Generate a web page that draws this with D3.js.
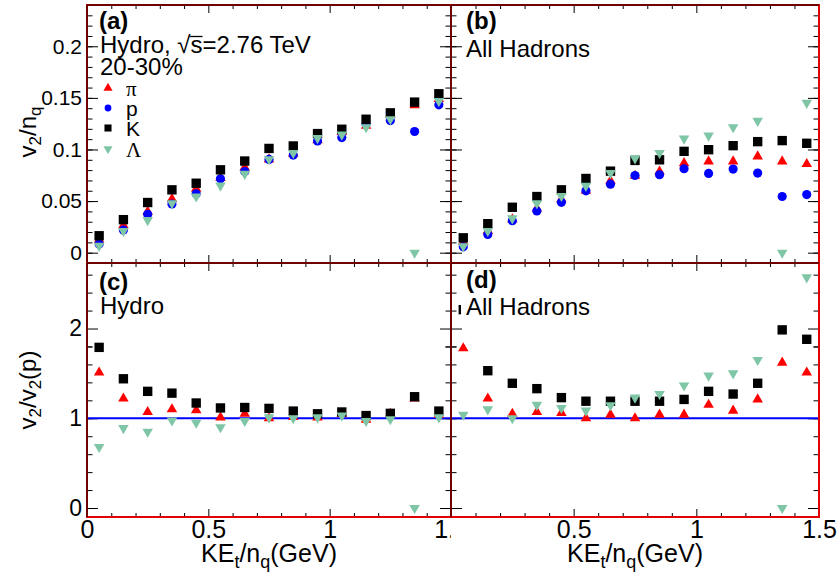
<!DOCTYPE html>
<html>
<head>
<meta charset="utf-8">
<script src="https://cdn.jsdelivr.net/npm/d3@7"></script>
<style>
  body { margin: 0; background: #fff; }
  svg { display: block; font-family: "Liberation Sans", Arial, Helvetica, sans-serif; }
</style>
</head>
<body>
<div id="chart"></div>
<script>
// bin centres in KE_t/n_q (GeV)
var keBins = [0.05, 0.15, 0.25, 0.35, 0.45, 0.55, 0.65, 0.75, 0.85, 0.95, 1.05, 1.15, 1.25, 1.35, 1.45];

// (a) hydro, v2/nq
var hydroPi     = [0.0125, 0.0267, 0.0398, 0.052, 0.062, 0.0723, 0.0826, 0.0904, 0.096, 0.109, 0.117, 0.123, 0.134, 0.143, 0.149];
var hydroP      = [0.0083, 0.0219, 0.0372, 0.0472, 0.057, 0.0716, 0.0787, 0.0904, 0.0946, 0.1082, 0.1115, 0.1248, 0.128, 0.1174, 0.1433];
var hydroK      = [0.0164, 0.032, 0.0486, 0.0609, 0.0673, 0.0803, 0.0888, 0.101, 0.1034, 0.1154, 0.1196, 0.1293, 0.1355, 0.1459, 0.154];
var hydroLambda = [0.0066, 0.021, 0.0316, 0.0479, 0.0544, 0.065, 0.0764, 0.0906, 0.0966, 0.111, 0.1144, 0.1215, 0.1293, 0.0, 0.1469];

// (b) all hadrons, v2/nq
var allPi     = [0.0103, 0.0212, 0.0322, 0.0428, 0.0517, 0.060, 0.0697, 0.0745, 0.0787, 0.0868, 0.0884, 0.0884, 0.0933, 0.0884, 0.0859];
var allP      = [0.0057, 0.0177, 0.031, 0.0404, 0.0488, 0.0599, 0.0664, 0.0748, 0.0755, 0.0813, 0.0768, 0.081, 0.0771, 0.0544, 0.0563];
var allK      = [0.0144, 0.0281, 0.044, 0.0544, 0.0609, 0.0719, 0.079, 0.0894, 0.090, 0.0982, 0.0998, 0.1037, 0.1076, 0.1086, 0.106];
var allLambda = [0.0063, 0.021, 0.0333, 0.0479, 0.055, 0.0648, 0.0771, 0.0914, 0.0966, 0.1105, 0.1134, 0.1215, 0.1277, 0.0, 0.1452];

// (c) hydro, v2/v2(p)
var hydroRatioPi     = [1.51, 1.22, 1.07, 1.10, 1.09, 1.01, 1.05, 1.00, 1.015, 1.01, 1.05, 0.985, 1.05, 1.22, 1.04];
var hydroRatioK      = [1.79, 1.44, 1.30, 1.28, 1.17, 1.115, 1.12, 1.11, 1.08, 1.05, 1.07, 1.03, 1.055, 1.24, 1.08];
var hydroRatioLambda = [0.68, 0.89, 0.85, 0.975, 0.95, 0.90, 0.97, 1.01, 1.00, 1.01, 1.03, 0.97, 0.99, 0.0, 1.01];

// (d) all hadrons, v2/v2(p)
var allRatioPi     = [1.78, 1.22, 1.05, 1.07, 1.06, 1.00, 1.04, 1.00, 1.04, 1.04, 1.15, 1.085, 1.21, 1.62, 1.51];
var allRatioK      = [2.21, 1.53, 1.39, 1.33, 1.23, 1.19, 1.19, 1.19, 1.19, 1.21, 1.30, 1.27, 1.39, 1.985, 1.88];
var allRatioLambda = [1.04, 1.10, 1.00, 1.15, 1.115, 1.085, 1.145, 1.23, 1.27, 1.365, 1.475, 1.50, 1.65, 0.0, 2.57];

// tick labels
var keTickValues = [0, 0.5, 1, 1.5];
var keTickLabels = ["0", "0.5", "1", "1.5"];
var v2TickValues = [0, 0.05, 0.1, 0.15, 0.2];
var v2TickLabels = ["0", "0.05", "0.1", "0.15", "0.2"];
var ratioTickValues = [0, 1, 2];
var ratioTickLabels = ["0", "1", "2"];

var speciesNames = ["\u03c0", "p", "K", "\u039b"];

var W = 840, H = 573;
var cPi = "#ff0000", cP = "#0000ff", cK = "#000000", cLam = "#7fc6a6";

var svg = d3.select("#chart").append("svg")
    .attr("width", W)
    .attr("height", H);

svg.append("rect").attr("width", W).attr("height", H).attr("fill", "#fff");

function markerPath(shape, size) {
    if (shape == "square") return d3.symbol().type(d3.symbolSquare).size(size)();
    if (shape == "circle") return d3.symbol().type(d3.symbolCircle).size(size)();
    return d3.symbol().type(d3.symbolTriangle).size(size)();
}

function drawMarkers(g, xs, ys, vals, shape, color, size) {
    g.selectAll(null)
        .data(vals)
      .enter().append("path")
        .attr("d", markerPath(shape, size))
        .attr("fill", color)
        .attr("transform", function(d, i) {
            var t = "translate(" + xs(keBins[i]) + "," + ys(d) + ")";
            if (shape == "down") t += " rotate(180)";
            return t;
        });
}

// draw one pad: ticks on all four sides pointing in, labels where asked
function drawPanel(p) {
    var g = svg.append("g");
    if (p.padBg) {
        g.append("rect")
            .attr("x", p.x0).attr("y", p.y0)
            .attr("width", W - p.x0).attr("height", H - p.y0)
            .attr("fill", "#fff");
    }

    var x = d3.scaleLinear().domain([0, 1.5]).range([p.x0, p.x1]);
    var y = d3.scaleLinear().domain(p.yDomain).range([p.y1, p.y0]);

    var xMinor = d3.range(0, 1.5001, 0.1).filter(function(v) { return Math.abs(v * 2 - Math.round(v * 2)) > 1e-6; });
    var yMinor = d3.range(p.yDomain[0], p.yDomain[1] + 1e-9, p.yMinorStep)
        .map(function(v) { return Math.round(v / p.yMinorStep) * p.yMinorStep; })
        .filter(function(v) { return v >= p.yDomain[0] - 1e-9 && v <= p.yDomain[1] + 1e-9; });

    function axisG(axis, tx, ty, fontSize) {
        var a = g.append("g")
            .attr("transform", "translate(" + tx + "," + ty + ")")
            .call(axis);
        a.select(".domain").remove();
        a.selectAll("line").attr("stroke", "#000").attr("stroke-width", 1);
        a.selectAll("text").attr("font-size", fontSize).attr("fill", "#000")
            .attr("font-family", "Liberation Sans, Arial, sans-serif");
        return a;
    }

    var yMajorSize = -11, yMinorSize = -5.5, xMajorSize = -8, xMinorSize = -4;

    // y axes
    axisG(d3.axisLeft(y).tickValues(p.yTicks).tickSize(yMajorSize).tickPadding(5)
        .tickFormat(function(d, i) { return p.showY ? p.yLabels[i] : ""; }), p.x0, 0, p.yFont);
    axisG(d3.axisLeft(y).tickValues(yMinor).tickSize(yMinorSize).tickFormat(""), p.x0, 0, 10);
    axisG(d3.axisRight(y).tickValues(p.yTicks).tickSize(yMajorSize).tickFormat(""), p.x1, 0, 10);
    axisG(d3.axisRight(y).tickValues(yMinor).tickSize(yMinorSize).tickFormat(""), p.x1, 0, 10);

    // x axes
    var bx = axisG(d3.axisBottom(x).tickValues(keTickValues).tickSize(xMajorSize).tickPadding(3)
        .tickFormat(function(d, i) { return p.showX ? keTickLabels[i] : ""; }), 0, p.y1, 25);
    if (p.hideZero) bx.selectAll("text").filter(function(d) { return d === 0; }).remove();
    axisG(d3.axisBottom(x).tickValues(xMinor).tickSize(xMinorSize).tickFormat(""), 0, p.y1, 10);
    axisG(d3.axisTop(x).tickValues(keTickValues).tickSize(xMajorSize).tickFormat(""), 0, p.y0, 10);
    axisG(d3.axisTop(x).tickValues(xMinor).tickSize(xMinorSize).tickFormat(""), 0, p.y0, 10);

    // reference line at 1
    if (p.unitLine) {
        g.append("line")
            .attr("x1", p.x0).attr("x2", p.x1)
            .attr("y1", y(1)).attr("y2", y(1))
            .attr("stroke", "#0000ff").attr("stroke-width", 2);
    }

    // markers
    var mk = g.append("g");
    drawMarkers(mk, x, y, p.series[0], "up", cPi, 48);
    drawMarkers(mk, x, y, p.series[1], "circle", cP, 66);
    drawMarkers(mk, x, y, p.series[2], "square", cK, 88);
    drawMarkers(mk, x, y, p.series[3], "down", cLam, 48);

    // pad border (red) and frame (black top/left)
    g.append("rect")
        .attr("x", p.x0).attr("y", p.y0)
        .attr("width", p.x1 - p.x0).attr("height", p.y1 - p.y0)
        .attr("fill", "none").attr("stroke", "#e00000").attr("stroke-width", 2);
    g.append("path")
        .attr("d", "M" + p.x0 + "," + p.y1 + "V" + p.y0 + "H" + p.x1)
        .attr("fill", "none").attr("stroke", "#000").attr("stroke-width", 1);

    return g;
}

var topCfg = { y0: 5, y1: 263, yDomain: [-0.01, 0.24], yTicks: v2TickValues, yLabels: v2TickLabels, yMinorStep: 0.01, yFont: 21 };
var botCfg = { y0: 263, y1: 517, yDomain: [-0.1, 2.73], yTicks: ratioTickValues, yLabels: ratioTickLabels, yMinorStep: 0.2, yFont: 23 };

var gA = drawPanel(Object.assign({}, topCfg, { x0: 87, x1: 451, showY: true, showX: false,
    series: [hydroPi, hydroP, hydroK, hydroLambda] }));
var gB = drawPanel(Object.assign({}, topCfg, { x0: 451, x1: 819, showY: false, showX: false,
    series: [allPi, allP, allK, allLambda] }));
var gC = drawPanel(Object.assign({}, botCfg, { x0: 87, x1: 451, showY: true, showX: true, unitLine: true,
    series: [hydroRatioPi, [], hydroRatioK, hydroRatioLambda] }));
var gD = drawPanel(Object.assign({}, botCfg, { x0: 451, x1: 819, showY: false, showX: true, unitLine: true, padBg: true, hideZero: true,
    series: [allRatioPi, [], allRatioK, allRatioLambda] }));

// panel texts
function label(g, x, y, txt, size, weight) {
    return g.append("text").attr("x", x).attr("y", y)
        .attr("font-size", size).attr("font-weight", weight || "normal")
        .attr("fill", "#000").text(txt);
}

label(gA, 99, 29, "(a)", 24, "bold");
var t = label(gA, 100, 53, "Hydro, \u221as=2.76 TeV", 24);
// bar of the square root over the "s"
var sBox = t.node().getExtentOfChar(8);
gA.append("line")
    .attr("x1", sBox.x - 1).attr("x2", sBox.x + sBox.width)
    .attr("y1", 36.5).attr("y2", 36.5)
    .attr("stroke", "#000").attr("stroke-width", 1.3);
label(gA, 100, 75, "20-30%", 24);

// legend
var legY = [88, 108, 128, 149];
var legShapes = ["up", "circle", "square", "down"];
var legColors = [cPi, cP, cK, cLam];
speciesNames.forEach(function(name, i) {
    gA.append("path")
        .attr("d", markerPath(legShapes[i], legShapes[i] == "square" ? 50 : 36))
        .attr("fill", legColors[i])
        .attr("transform", "translate(108," + legY[i] + ")" + (legShapes[i] == "down" ? " rotate(180)" : ""));
    var serif = (i == 0 || i == 3);
    gA.append("text").attr("x", 126).attr("y", legY[i] + 8)
        .attr("font-size", 21)
        .attr("font-family", serif ? "Liberation Serif, Times New Roman, serif" : null)
        .attr("fill", "#000").text(name);
});

label(gB, 466, 29, "(b)", 24, "bold");
label(gB, 466, 57, "All Hadrons", 24);

label(gC, 99, 290, "(c)", 24, "bold");
label(gC, 100, 314, "Hydro", 24);

// text box in (d) covers most of the first K point
gD.append("rect").attr("x", 461).attr("y", 270).attr("width", 140).attr("height", 52).attr("fill", "#fff");
label(gD, 466, 288, "(d)", 24, "bold");
label(gD, 466, 315, "All Hadrons", 24);

// axis titles
svg.append("text")
    .attr("transform", "translate(36,132) rotate(-90)")
    .attr("text-anchor", "middle").attr("font-size", 24).attr("fill", "#000")
    .call(function(s) {
        s.append("tspan").text("v");
        s.append("tspan").attr("font-size", 17).attr("dy", 5).text("2");
        s.append("tspan").attr("dy", -5).text("/n");
        s.append("tspan").attr("font-size", 17).attr("dy", 5).text("q");
    });

svg.append("text")
    .attr("transform", "translate(36,390) rotate(-90)")
    .attr("text-anchor", "middle").attr("font-size", 24).attr("fill", "#000")
    .call(function(s) {
        s.append("tspan").text("v");
        s.append("tspan").attr("font-size", 17).attr("dy", 5).text("2");
        s.append("tspan").attr("dy", -5).text("/v");
        s.append("tspan").attr("font-size", 17).attr("dy", 5).text("2");
        s.append("tspan").attr("dy", -5).text("(p)");
    });

[269, 635].forEach(function(cx) {
    svg.append("text")
        .attr("x", cx).attr("y", 562)
        .attr("text-anchor", "middle").attr("font-size", 25).attr("fill", "#000")
        .call(function(s) {
            s.append("tspan").text("KE");
            s.append("tspan").attr("font-size", 18).attr("dy", 6).text("t");
            s.append("tspan").attr("dy", -6).text("/n");
            s.append("tspan").attr("font-size", 18).attr("dy", 6).text("q");
            s.append("tspan").attr("dy", -6).text("(GeV)");
        });
});
</script>
</body>
</html>
